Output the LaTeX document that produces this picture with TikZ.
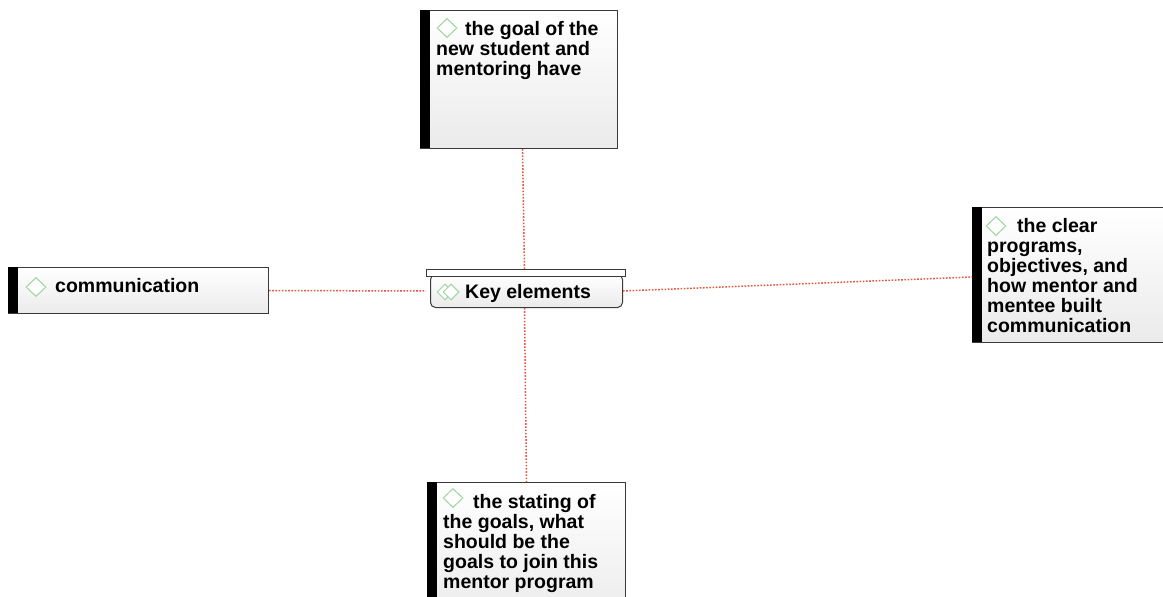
\documentclass[tikz,border=0pt]{standalone}
\usepackage{fontspec}
\setmainfont{Liberation Sans}
\usetikzlibrary{shapes.geometric,calc}

\definecolor{linkred}{HTML}{E8553F}
\definecolor{icongreen}{HTML}{9CD69C}
\definecolor{boxedge}{HTML}{3A3A3A}

\tikzset{
  topicbox/.style={draw=boxedge, line width=1pt, top color=white, bottom color=black!8,
                   inner sep=0pt, anchor=north west},
  sidebar/.style={fill=black, inner sep=0pt, anchor=north west, minimum width=10pt},
  icon/.style={shape=diamond, draw=icongreen, fill=white, line width=1pt, inner sep=0pt,
               minimum width=20pt, minimum height=19pt},
  itemtext/.style={anchor=base west, inner sep=0pt,
                   font=\fontsize{19.5}{20}\selectfont\bfseries},
  connector/.style={draw=linkred, line width=1.5pt, dash pattern=on 1.6pt off 1.6pt}
}

\newcommand\textlines[1]{\begin{tabular}[t]{@{}l@{}}#1\end{tabular}}

\begin{document}
\begin{tikzpicture}[x=1pt, y=-1pt]
\useasboundingbox (0,0) rectangle (1163,597);
\clip (0,0) rectangle (1163,597);

% central topic
\node[topicbox, rounded corners=5pt, minimum width=192pt, minimum height=33pt] (key) at (430,274) {};
\node[anchor=north west, draw=boxedge, fill=white, line width=1pt, inner sep=0pt,
      minimum width=199pt, minimum height=7pt] (keylid) at (426,269) {};
\node[icon, minimum width=16pt, minimum height=16pt] (keyback) at (445,292) {};
\node[icon, minimum width=16pt, minimum height=16pt] (keyfront) at (451,292) {};
\node[itemtext] (keytext) at (465,298) {Key elements};

% upper topic
\node[topicbox, minimum width=197pt, minimum height=138pt] (goal) at (420,10) {};
\node[sidebar, minimum height=138pt] (goalbar) at (goal.north west) {};
\node[icon] (goalicon) at (447,28) {};
\node[itemtext] (goaltext) at (436,35)
  {\textlines{\hspace*{29pt}the goal of the\\new student and\\mentoring have}};

% left topic
\node[topicbox, minimum width=260pt, minimum height=46pt] (comm) at (8,267) {};
\node[sidebar, minimum height=46pt] (commbar) at (comm.north west) {};
\node[icon] (commicon) at (36,287) {};
\node[itemtext] (commtext) at (55,292) {communication};

% right topic
\node[topicbox, minimum width=192pt, minimum height=135pt] (clear) at (972,207) {};
\node[sidebar, minimum height=135pt] (clearbar) at (clear.north west) {};
\node[icon] (clearicon) at (996,226) {};
\node[itemtext] (cleartext) at (987,232)
  {\textlines{\hspace*{30pt}the clear\\programs,\\objectives, and\\how mentor and\\mentee built\\communication}};

% lower topic
\node[topicbox, minimum width=198pt, minimum height=140pt] (stating) at (427,482) {};
\node[sidebar, minimum height=140pt] (statingbar) at (stating.north west) {};
\node[icon] (statingicon) at (453,498) {};
\node[itemtext] (statingtext) at (443,508)
  {\textlines{\hspace*{30pt}the stating of\\the goals, what\\should be the\\goals to join this\\mentor program}};

% links from the central topic
\draw[connector] ($(goal.south)+(3.5,0)$) -- ($(keylid.north)+(-1.5,0)$);
\draw[connector] ($(key.south)+(-2,0)$) -- (stating.north);
\draw[connector] (comm.east) -- (keylid.south west |- key.west);
\draw[connector] (key.east) -- ($(clear.west)+(0,2)$);
\end{tikzpicture}
\end{document}
